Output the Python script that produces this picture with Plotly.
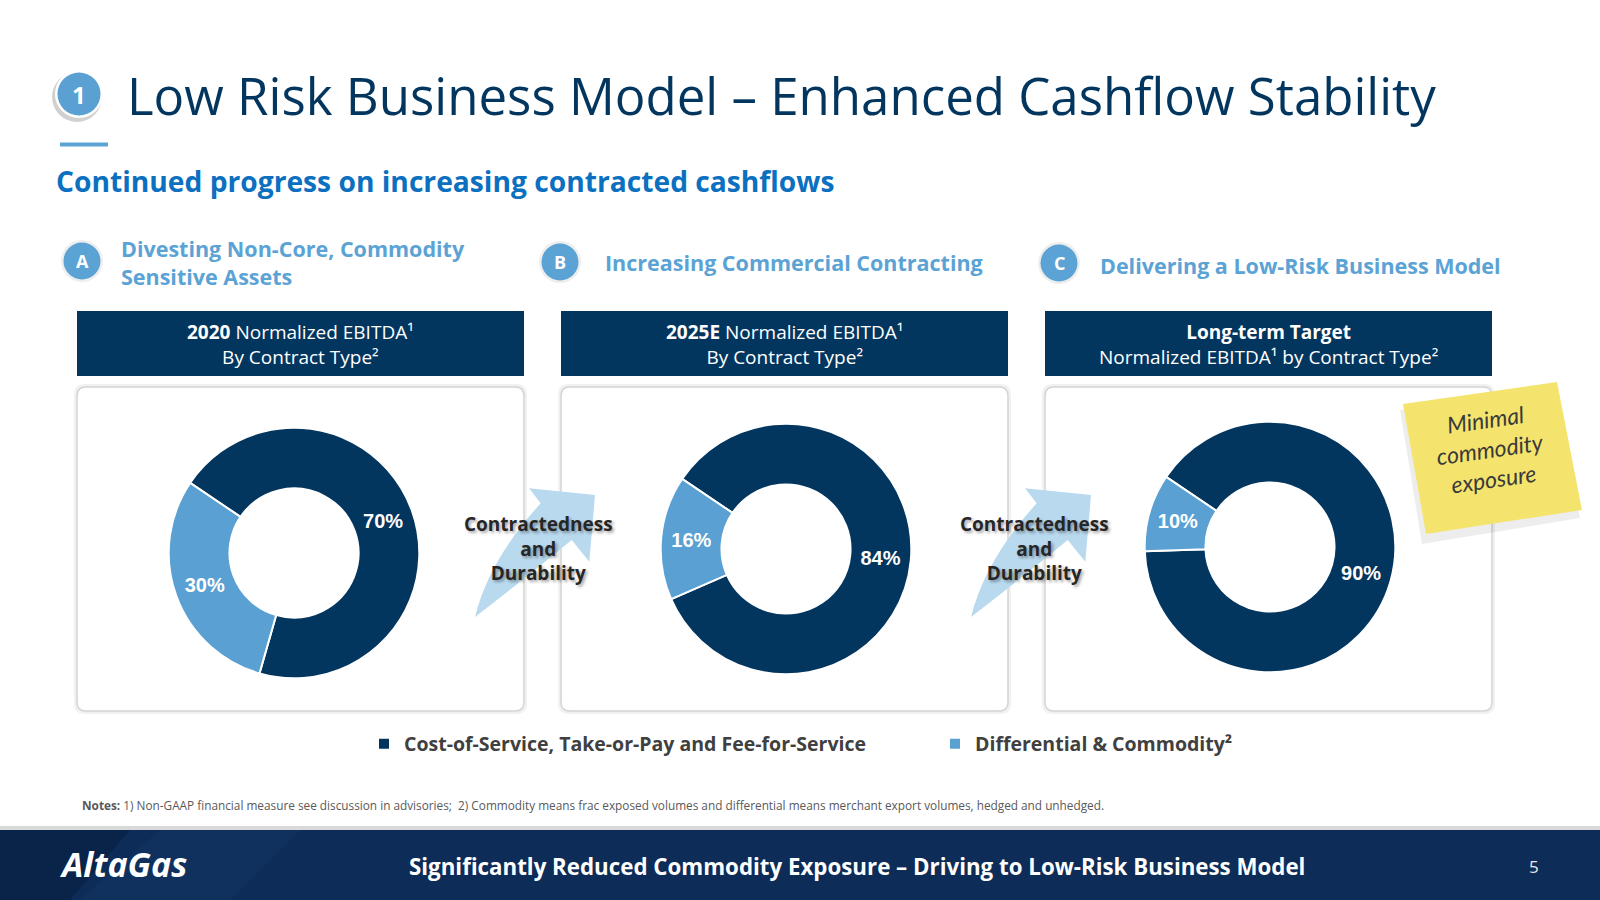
import plotly.graph_objects as go

W, H = 1600, 900

# ---------------- data ----------------
categories = ["Cost-of-Service, Take-or-Pay and Fee-for-Service",
              "Differential & Commodity\u00b2"]
values_2020 = [70, 30]
values_2025e = [84, 16]
values_longterm = [90, 10]
series = [values_2020, values_2025e, values_longterm]

box_titles = ["<b>2020</b> Normalized EBITDA\u00b9<br>By Contract Type\u00b2",
              "<b>2025E</b> Normalized EBITDA\u00b9<br>By Contract Type\u00b2",
              "<b>Long-term Target</b><br>Normalized EBITDA\u00b9 by Contract Type\u00b2"]
section_letters = ["A", "B", "C"]
section_titles = ["Divesting Non-Core, Commodity<br>Sensitive Assets",
                  "Increasing Commercial Contracting",
                  "Delivering a Low-Risk Business Model"]
arrow_text = "<b>Contractedness<br>and<br>Durability</b>"

title = "Low Risk Business Model \u2013 Enhanced Cashflow Stability"
subtitle = "Continued progress on increasing contracted cashflows"
note_text = "Minimal<br>commodity<br>exposure"
notes = ("<b>Notes:</b> 1) Non-GAAP financial measure see discussion in advisories;  2) Commodity means frac "
         "exposed volumes and differential means merchant export volumes, hedged and unhedged.")
footer_text = "Significantly Reduced Commodity Exposure \u2013 Driving to Low-Risk Business Model"
page_no = "5"

# ---------------- style ----------------
NAVY = "#03365F"
LIGHT = "#5AA0D3"
SECT = "#5BA3D5"
SUB = "#0B70BF"
ARROW = "#B9D9EE"
FONT = "Open Sans"

def X(x):
    return x / W

def Y(y):
    return 1 - y / H

def pt(x, y):
    return f"{X(x):.5f},{Y(y):.5f}"

def rrect(x0, y0, x1, y1, r):
    return (f"M {pt(x0 + r, y0)} L {pt(x1 - r, y0)} Q {pt(x1, y0)} {pt(x1, y0 + r)} "
            f"L {pt(x1, y1 - r)} Q {pt(x1, y1)} {pt(x1 - r, y1)} L {pt(x0 + r, y1)} "
            f"Q {pt(x0, y1)} {pt(x0, y1 - r)} L {pt(x0, y0 + r)} Q {pt(x0, y0)} {pt(x0 + r, y0)} Z")

def poly(points):
    return "M " + " L ".join(pt(x, y) for x, y in points) + " Z"

shapes = []
annotations = []

def add_text(x, y, text, size, color, family=FONT, xanchor="center", yanchor="middle",
             weight="normal", align="center", style="normal", shadow="none", angle=0):
    annotations.append(dict(x=X(x), y=Y(y), xref="paper", yref="paper", text=text,
                            showarrow=False, xanchor=xanchor, yanchor=yanchor, align=align,
                            textangle=angle,
                            font=dict(family=family, size=size, color=color, weight=weight,
                                      style=style, shadow=shadow)))

def circle(cx, cy, r, fill):
    shapes.append(dict(type="circle", xref="paper", yref="paper",
                       x0=X(cx - r), x1=X(cx + r), y0=Y(cy + r), y1=Y(cy - r),
                       fillcolor=fill, line=dict(width=0), layer="below"))

# ---------------- layout geometry ----------------
card_x = [(77, 524), (561, 1008), (1045, 1492)]
centers = [(294, 553), (786, 549), (1270, 547)]
R = 125.3
sect_circ = [(82, 261), (560, 262), (1059, 263)]
sect_text = [(119, 263), (603, 262), (1098, 265)]
arrow_dx = [0, 496]

# title badge
circle(77, 97, 25, "rgba(0,0,0,0.18)")
circle(79, 94, 24, "white")
circle(79, 94, 21.5, LIGHT)
add_text(79, 94, "<b>1</b>", 24, "white")
add_text(125, 95, title, 51, NAVY, xanchor="left")
shapes.append(dict(type="rect", xref="paper", yref="paper", x0=X(60), x1=X(108),
                   y0=Y(146.5), y1=Y(142.5), fillcolor=SECT, line=dict(width=0), layer="below"))
add_text(54, 181, subtitle, 28.2, SUB, xanchor="left", weight="bold")

# section headers
for (cx, cy), (tx, ty), letter, txt in zip(sect_circ, sect_text, section_letters, section_titles):
    circle(cx, cy, 21, "#EEEEEE")
    circle(cx, cy, 18.5, SECT)
    add_text(cx, cy, f"<b>{letter}</b>", 18, "white")
    add_text(tx, ty, txt, 21.5, SECT, xanchor="left", weight="bold", align="left")

# header boxes and cards
for (x0, x1), t in zip(card_x, box_titles):
    shapes.append(dict(type="rect", xref="paper", yref="paper", x0=X(x0), x1=X(x1),
                       y0=Y(376), y1=Y(311), fillcolor=NAVY, line=dict(width=0), layer="below"))
    add_text((x0 + x1) / 2, 344, t, 19, "white")
    shapes.append(dict(type="path", path=rrect(x0 - 3, 384, x1 + 3, 714, 11), xref="paper",
                       yref="paper", fillcolor="#F1F1F1", line=dict(width=0), layer="below"))
    shapes.append(dict(type="path", path=rrect(x0, 387, x1, 711, 9), xref="paper", yref="paper",
                       fillcolor="white", line=dict(color="#D4D4D4", width=1.5), layer="below"))

# arrows
for dx in arrow_dx:
    tail = (475 + dx, 617)
    c1 = (489 + dx, 560)
    lnotch = (540.7 + dx, 503.3)
    lbarb = (529 + dx, 488.3)
    tip = (595 + dx, 495)
    rbarb = (589.3 + dx, 561.7)
    rnotch = (571.7 + dx, 540)
    c2 = (533 + dx, 572)
    path = (f"M {pt(*tail)} Q {pt(*c1)} {pt(*lnotch)} L {pt(*lbarb)} L {pt(*tip)} "
            f"L {pt(*rbarb)} L {pt(*rnotch)} Q {pt(*c2)} {pt(*tail)} Z")
    shapes.append(dict(type="path", path=path, xref="paper", yref="paper",
                       fillcolor=ARROW, line=dict(width=0), layer="below"))
    add_text(538 + dx, 548, arrow_text, 19, "#262626",
             shadow="2px 2px 3px rgba(0,0,0,0.35)")

# sticky note
note = [(1403, 404), (1557, 382), (1582, 510), (1426, 534)]
shadow_pts = [(1400, 410), (1555, 392), (1580, 518), (1422, 544)]
shapes.append(dict(type="path", path=poly(shadow_pts), xref="paper", yref="paper",
                   fillcolor="rgba(0,0,0,0.07)", line=dict(width=0), layer="below"))
shapes.append(dict(type="path", path=poly(note), xref="paper", yref="paper",
                   fillcolor="#F4E46E", line=dict(width=0), layer="below"))
add_text(1490, 449, note_text, 23, "#3A3A3A", family="Lato", style="italic", angle=-8)

# notes
add_text(80, 805, notes, 11.8, "#595959", xanchor="left")

# footer
shapes.append(dict(type="rect", xref="paper", yref="paper", x0=0, x1=1, y0=Y(830), y1=Y(826),
                   fillcolor="#D9D9D9", line=dict(width=0), layer="below"))
shapes.append(dict(type="rect", xref="paper", yref="paper", x0=0, x1=1, y0=0, y1=Y(830),
                   fillcolor="#0D2C57", line=dict(width=0), layer="below"))
shapes.append(dict(type="path", path=poly([(0, 830), (130, 830), (70, 900), (0, 900)]),
                   xref="paper", yref="paper", fillcolor="rgba(5,20,45,0.35)",
                   line=dict(width=0), layer="below"))
shapes.append(dict(type="path", path=poly([(160, 830), (300, 830), (230, 900), (80, 900)]),
                   xref="paper", yref="paper", fillcolor="rgba(70,120,180,0.08)",
                   line=dict(width=0), layer="below"))
add_text(57, 864, "AltaGas", 34, "white", xanchor="left", weight="bold", style="italic")
add_text(857, 866, footer_text, 22.3, "white", weight="bold")
add_text(1534, 866, page_no, 17, "#E8E8E8")

# ---------------- figure ----------------
fig = go.Figure()
for (cx, cy), vals in zip(centers, series):
    fig.add_trace(go.Pie(
        labels=categories, values=vals, hole=0.515, sort=False, direction="clockwise",
        rotation=-56,
        marker=dict(colors=[NAVY, LIGHT], line=dict(color="white", width=2)),
        texttemplate="%{value}%", textposition="inside", insidetextorientation="horizontal",
        textfont=dict(family="Liberation Sans, Arial", size=20, color="white", weight="bold"),
        hoverinfo="skip",
        domain=dict(x=[X(cx - R), X(cx + R)], y=[Y(cy + R), Y(cy - R)]),
    ))

fig.update_layout(
    width=W, height=H, margin=dict(l=0, r=0, t=0, b=0),
    paper_bgcolor="white", plot_bgcolor="white",
    shapes=shapes, annotations=annotations,
    showlegend=True,
    legend=dict(orientation="h", x=X(364), y=Y(744), xanchor="left", yanchor="middle",
                font=dict(family=FONT, size=19.5, color="#404040", weight="bold"),
                entrywidth=526, entrywidthmode="pixels", bgcolor="rgba(0,0,0,0)",
                traceorder="normal"),
    font=dict(family=FONT),
)

fig.write_html("out.html", config={"displayModeBar": False},
               post_script="document.body.style.margin='0px';"
                           "document.documentElement.style.overflow='hidden';")
